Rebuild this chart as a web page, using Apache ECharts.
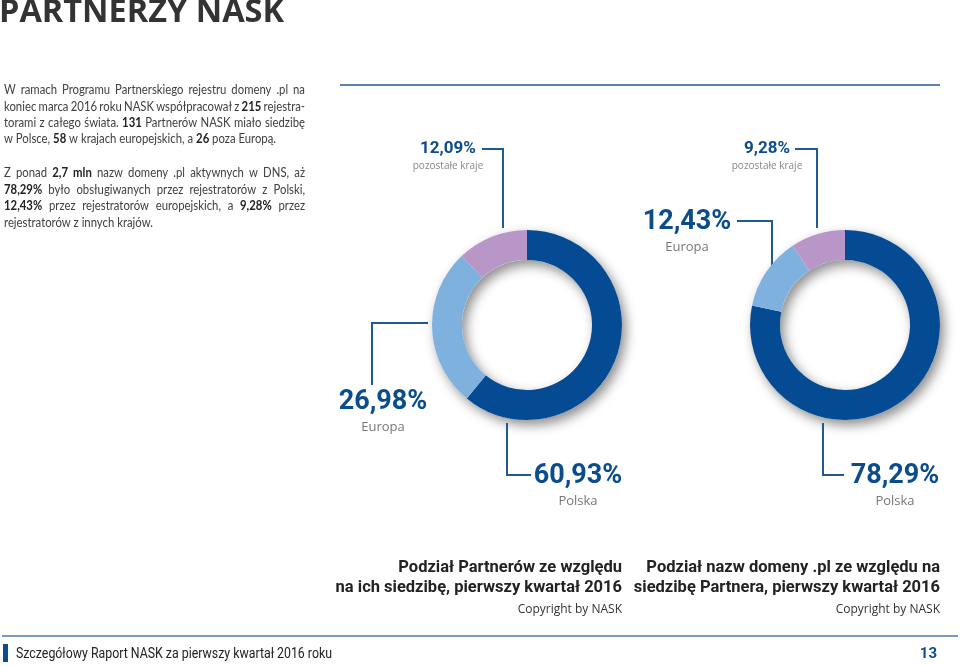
<!DOCTYPE html>
<html><head><meta charset="utf-8">
<script src="https://cdn.jsdelivr.net/npm/echarts@6/dist/echarts.min.js"></script>
<style>html,body{margin:0;padding:0;background:#fff}#c{width:960px;height:666px}</style>
</head><body><div id="c"></div>
<script>
// ---- data ----
const categories = ['Polska', 'Europa', 'pozostałe kraje'];
const partnersShare = [60.93, 26.98, 12.09];
const domainsShare = [78.29, 12.43, 9.28];
const pageTitle = 'PARTNERZY NASK';
const paragraph1 = [
  'W ramach Programu Partnerskiego rejestru domeny .pl na',
  'koniec marca 2016 roku NASK współpracował z **215** rejestra-',
  'torami z całego świata. **131** Partnerów NASK miało siedzibę',
  'w Polsce, **58** w krajach europejskich, a **26** poza Europą.'
];
const paragraph2 = [
  'Z ponad **2,7 mln** nazw domeny .pl aktywnych w DNS, aż',
  '**78,29%** było obsługiwanych przez rejestratorów z Polski,',
  '**12,43%** przez rejestratorów europejskich, a **9,28%** przez',
  'rejestratorów z innych krajów.'
];
const partnersTitle = ['Podział Partnerów ze względu', 'na ich siedzibę, pierwszy kwartał 2016'];
const domainsTitle = ['Podział nazw domeny .pl ze względu na', 'siedzibę Partnera, pierwszy kwartał 2016'];
const copyright = 'Copyright by NASK';
const footerText = 'Szczegółowy Raport NASK za pierwszy kwartał 2016 roku';
const pageNumber = '13';

// ---- styles / layout ----
const sliceColors = ['#044b94', '#7fb1df', '#b996c8'];
const blue = '#0b4c8c';
const lineBlue = '#1f5a93';
const centers = [[527, 325], [845, 325]];
const radius = [65, 95];
const labelPlaces = [
  [
    {x: 578, y: 486, big: true, pts: [[531, 475], [507, 475], [507, 423]]},
    {x: 383, y: 412, big: true, pts: [[372, 385], [372, 323], [428, 323]]},
    {x: 448, y: 156, big: false, pts: [[482, 149], [503, 149], [503, 228]]}
  ],
  [
    {x: 895, y: 486, big: true, pts: [[844, 475], [823, 475], [823, 423]]},
    {x: 687, y: 232, big: true, pts: [[737, 221], [772, 221], [772, 266]]},
    {x: 767, y: 156, big: false, pts: [[795, 149], [817, 149], [817, 228]]}
  ]
];

const fmt = v => v.toFixed(2).replace('.', ',') + '%';
const numFont = 'Roboto';

function pieSeries(values, ci) {
  return [
    {
      type: 'pie', silent: true, z: 1, center: centers[ci], radius: radius,
      label: {show: false}, labelLine: {show: false},
      itemStyle: {color: '#ffffff', shadowBlur: 12, shadowOffsetX: 4, shadowOffsetY: 5, shadowColor: 'rgba(0,0,0,0.45)'},
      data: [{value: 1}]
    },
    {
      type: 'pie', z: 2, center: centers[ci], radius: radius, startAngle: 90, clockwise: true,
      silent: true, avoidLabelOverlap: false,
      emphasis: {disabled: true},
      data: values.map((v, i) => ({name: categories[i], value: v, itemStyle: {color: sliceColors[i]}})),
      label: {
        show: true, position: 'outside', align: 'center',
        formatter: p => labelPlaces[ci][p.dataIndex].big
          ? '{v|' + fmt(p.value) + '}\n{n|' + p.name + '}'
          : '{s|' + fmt(p.value) + '}\n{m|' + p.name + '}',
        rich: {
          v: {fontFamily: numFont, fontSize: 27, fontWeight: 'bold', color: blue, lineHeight: 30, align: 'center'},
          n: {fontFamily: 'Open Sans', fontSize: 13, color: '#777', lineHeight: 20, align: 'center'},
          s: {fontFamily: numFont, fontSize: 17, fontWeight: 'bold', color: blue, lineHeight: 20, align: 'center'},
          m: {fontFamily: 'Open Sans', fontSize: 10, color: '#888', lineHeight: 14, align: 'center'}
        }
      },
      labelLine: {show: true, lineStyle: {color: lineBlue, width: 2}, smooth: false},
      labelLayout: p => {
        const pl = labelPlaces[ci][p.dataIndex];
        return {x: pl.x, y: pl.y, align: 'center', verticalAlign: 'middle', labelLinePoints: pl.pts};
      }
    }
  ];
}

// ---- justified paragraphs (condensed via horizontal scale) ----
const ctx = document.createElement('canvas').getContext('2d');
const pFont = 'Lato', pSize = 13.5;
function measureRaw(t, b, size, fam) { ctx.font = (b ? 'bold ' : '') + size + 'px ' + fam; return ctx.measureText(t).width; }
function parseWords(line) {
  const words = [];
  line.split('**').forEach((seg, si) => {
    seg.split(' ').filter(w => w.length).forEach(w => words.push({t: w, b: si % 2 === 1}));
  });
  return words;
}
function naturalWidth(line) {
  const ws = parseWords(line);
  return ws.reduce((a, w) => a + measureRaw(w.t, w.b, pSize, pFont), 0) + (ws.length - 1) * measureRaw(' ', false, pSize, pFont);
}
// horizontal condensing so that the paragraph's last line spans like the reference (4 -> 276 px)
const pScale = 272 / naturalWidth(paragraph1[3]);
function paragraph(lines, y0, lh, x0, W) {
  const els = [];
  lines.forEach((line, li) => {
    const words = parseWords(line);
    const widths = words.map(w => measureRaw(w.t, w.b, pSize, pFont) * pScale);
    const sum = widths.reduce((a, b) => a + b, 0);
    const last = li === lines.length - 1;
    const gap = last ? measureRaw(' ', false, pSize, pFont) * pScale : (W - sum) / (words.length - 1);
    let x = x0;
    words.forEach((w, i) => {
      els.push({type: 'text', x: x, y: y0 + li * lh, scaleX: pScale, silent: true,
        style: {text: w.t, fontFamily: pFont, fontSize: pSize, fontWeight: w.b ? 'bold' : 'normal',
          fill: w.b ? '#222' : '#404040', verticalAlign: 'middle', align: 'left'}});
      x += widths[i] + gap;
    });
  });
  return els;
}

const txt = (x, y, text, o, extra) => Object.assign({type: 'text', x, y, silent: true,
  style: Object.assign({text, verticalAlign: 'middle', fill: '#222'}, o)}, extra || {});

const footScale = 316 / measureRaw(footerText, false, 14, 'Roboto');

const graphics = [
  txt(-1, 13, pageTitle, {fontFamily: 'Open Sans', fontSize: 32.5, fontWeight: 'bold', fill: '#333'}),
  ...paragraph(paragraph1, 90, 16.3, 4, 301),
  ...paragraph(paragraph2, 173, 16.4, 4, 301),
  {type: 'line', silent: true, shape: {x1: 340, y1: 85, x2: 940, y2: 85}, style: {stroke: lineBlue, lineWidth: 1.5}},
  txt(622, 568, partnersTitle[0], {align: 'right', fontFamily: numFont, fontSize: 16.5, fontWeight: 'bold'}),
  txt(622, 588, partnersTitle[1], {align: 'right', fontFamily: numFont, fontSize: 16.5, fontWeight: 'bold'}),
  txt(622, 610, copyright, {align: 'right', fontFamily: 'Open Sans', fontSize: 12, fill: '#333'}),
  txt(940, 568, domainsTitle[0], {align: 'right', fontFamily: numFont, fontSize: 16.5, fontWeight: 'bold'}),
  txt(940, 588, domainsTitle[1], {align: 'right', fontFamily: numFont, fontSize: 16.5, fontWeight: 'bold'}),
  txt(940, 610, copyright, {align: 'right', fontFamily: 'Open Sans', fontSize: 12, fill: '#333'}),
  {type: 'line', silent: true, shape: {x1: 2, y1: 636, x2: 958, y2: 636}, style: {stroke: '#4a7aa8', lineWidth: 1.5}},
  {type: 'rect', silent: true, shape: {x: 3, y: 644, width: 5, height: 18}, style: {fill: '#0b4c8c'}},
  txt(16, 654, footerText, {fontFamily: 'Roboto', fontSize: 14, fill: '#222'}, {scaleX: footScale}),
  txt(937, 654, pageNumber, {align: 'right', fontFamily: 'Roboto', fontSize: 15, fontWeight: 'bold', fill: blue})
];

const chart = echarts.init(document.getElementById('c'), null, {renderer: 'canvas'});
chart.setOption({
  animation: false,
  backgroundColor: '#ffffff',
  series: [...pieSeries(partnersShare, 0), ...pieSeries(domainsShare, 1)],
  graphic: graphics
});
</script></body></html>
